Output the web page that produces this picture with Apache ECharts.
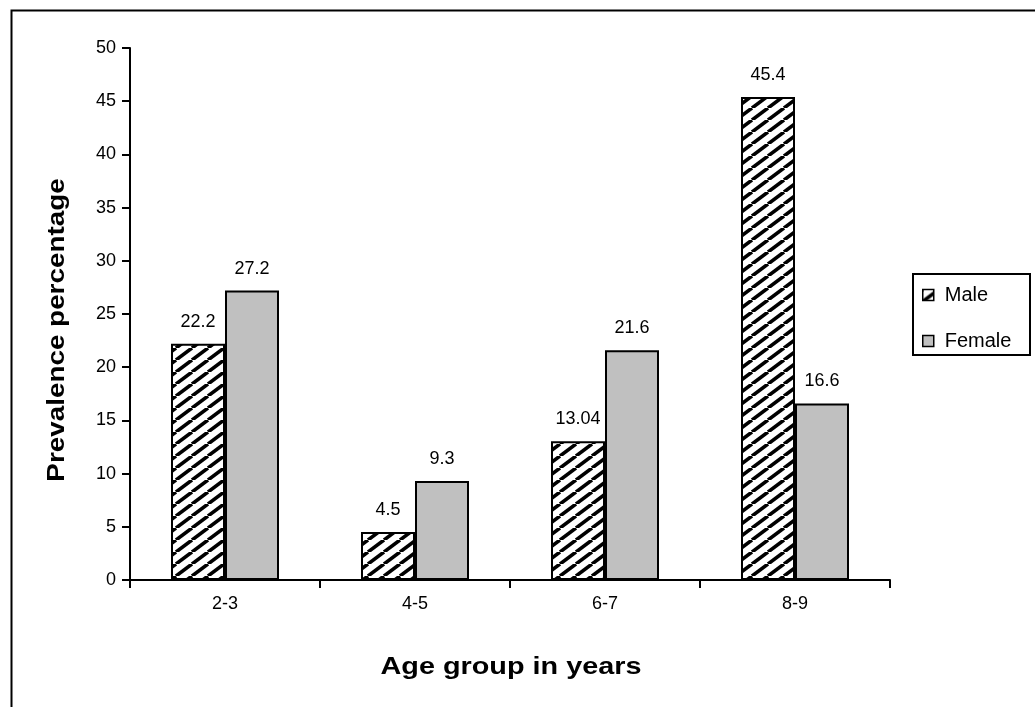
<!DOCTYPE html>
<html>
<head>
<meta charset="utf-8">
<script src="https://cdn.jsdelivr.net/npm/echarts@6/dist/echarts.min.js"></script>
<style>
html,body{margin:0;padding:0;background:#fff;}
#chart{width:1035px;height:707px;}
</style>
</head>
<body>
<div id="chart"></div>
<script>
const categories = ['2-3', '4-5', '6-7', '8-9'];
const maleValues = [22.2, 4.5, 13.04, 45.4];
const femaleValues = [27.2, 9.3, 21.6, 16.6];
const seriesNames = ['Male', 'Female'];
const yTicks = { min: 0, max: 50, interval: 5 };
const xTitle = 'Age group in years';
const yTitle = 'Prevalence percentage';

function makeHatch() {
  const w = 16, h = 12;
  const c = document.createElement('canvas');
  c.width = w; c.height = h;
  const ctx = c.getContext('2d');
  ctx.fillStyle = '#fff';
  ctx.fillRect(0, 0, w, h);
  ctx.strokeStyle = '#000';
  ctx.lineWidth = 3.6;
  for (let k = -2; k <= 2; k++) {
    ctx.beginPath();
    ctx.moveTo(k * w, h);
    ctx.lineTo(k * w + w, 0);
    ctx.stroke();
  }
  return c;
}
const hatch = { image: makeHatch(), repeat: 'repeat' };

const font = '"Liberation Sans", Arial, sans-serif';
const chart = echarts.init(document.getElementById('chart'), null, { renderer: 'canvas' });

const labelCfg = {
  show: true, position: 'top', distance: 13,
  color: '#000', fontSize: 18, fontFamily: font
};

chart.setOption({
  backgroundColor: '#fff',
  animation: false,
  graphic: [
    {
      type: 'rect', left: 9, top: 8, z: 100,
      shape: { width: 1100, height: 800 },
      style: { fill: 'none', stroke: '#000', lineWidth: 2 }
    },
    {
      type: 'rect', x: 913, y: 274, z: 100,
      shape: { width: 117, height: 81 },
      style: { fill: 'none', stroke: '#000', lineWidth: 2 }
    },
    {
      type: 'text', x: 511, y: 667, scaleX: 1.2,
      style: { text: xTitle, fontSize: 24, fontWeight: 'bold', fontFamily: font,
               fill: '#000', align: 'center', verticalAlign: 'middle' }
    },
    {
      type: 'text', x: 57, y: 330, rotation: Math.PI / 2, scaleX: 1.16,
      style: { text: yTitle, fontSize: 24, fontWeight: 'bold', fontFamily: font,
               fill: '#000', align: 'center', verticalAlign: 'middle' }
    }
  ],
  grid: { left: 130, right: 145, top: 48, bottom: 127 },
  legend: {
    orient: 'vertical', left: 913, top: 274,
    padding: [11, 8, 11, 9], itemGap: 26,
    itemWidth: 11, itemHeight: 11, icon: 'rect',
    textStyle: { fontSize: 20, fontFamily: font, color: '#000', lineHeight: 17, padding: [0, 0, 0, 6] },
    itemStyle: { borderColor: '#000', borderWidth: 1.5 },
    data: seriesNames
  },
  xAxis: {
    type: 'category', data: categories,
    axisLine: { lineStyle: { color: '#000', width: 2 } },
    axisTick: { show: true, length: 8, alignWithLabel: false, lineStyle: { color: '#000', width: 2 } },
    axisLabel: { color: '#000', fontSize: 18, fontFamily: font, margin: 15 }
  },
  yAxis: {
    type: 'value', min: yTicks.min, max: yTicks.max, interval: yTicks.interval,
    splitLine: { show: false },
    axisLine: { show: true, lineStyle: { color: '#000', width: 2 } },
    axisTick: { show: true, length: 8, lineStyle: { color: '#000', width: 2 } },
    axisLabel: { color: '#000', fontSize: 18, fontFamily: font, margin: 14 }
  },
  series: [
    {
      name: seriesNames[0], type: 'bar', data: maleValues,
      barWidth: 54, barGap: '0%',
      itemStyle: { color: hatch, borderColor: '#000', borderWidth: 2 },
      label: labelCfg
    },
    {
      name: seriesNames[1], type: 'bar', data: femaleValues,
      barWidth: 54, barGap: '0%',
      itemStyle: { color: '#c0c0c0', borderColor: '#000', borderWidth: 2 },
      label: labelCfg
    }
  ]
});
</script>
</body>
</html>
